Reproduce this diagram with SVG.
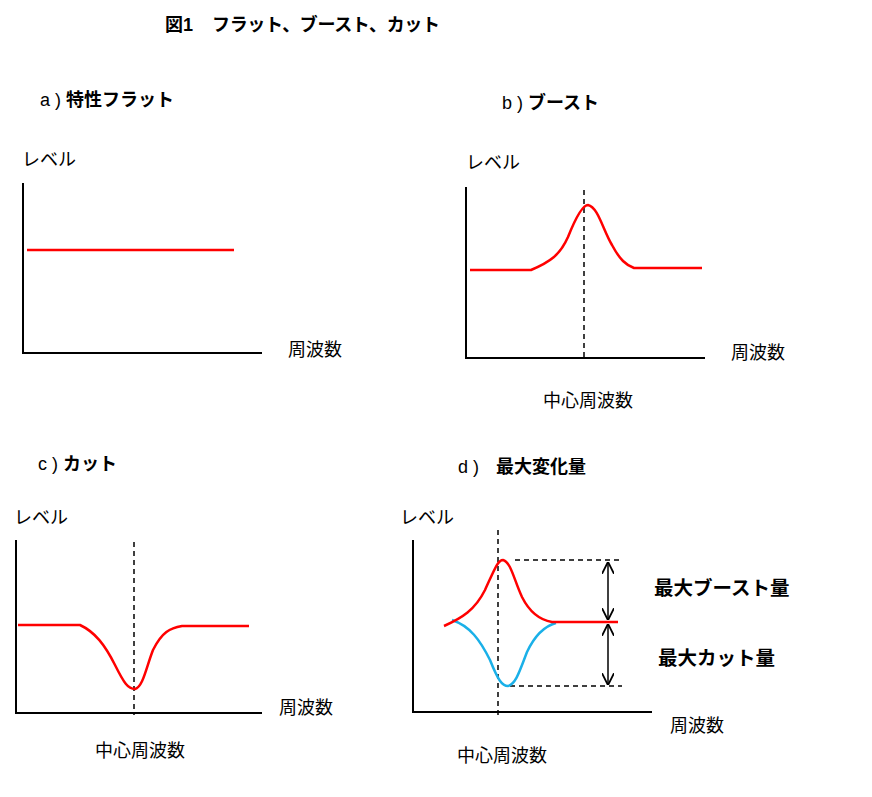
<svg xmlns="http://www.w3.org/2000/svg" width="872" height="797" viewBox="0 0 872 797">
<style>
text{font-family:"Liberation Sans","Noto Sans CJK JP",sans-serif;font-size:18px;fill:#000}
.b{font-weight:bold}
.l{font-size:19.5px}
.ax{stroke:#000;stroke-width:2;fill:none}
.da{stroke:#000;stroke-width:1.5;stroke-dasharray:5,4;fill:none}
.r{stroke:#f00;stroke-width:2.5;fill:none}
.bl{stroke:#1ab0e8;stroke-width:2.5;fill:none}
.ar{stroke:#000;stroke-width:1.5;fill:none;marker-start:url(#m);marker-end:url(#m)}
</style>
<defs><marker id="m" viewBox="0 0 10 10" refX="9" refY="5" markerWidth="8" markerHeight="8" orient="auto-start-reverse"><path d="M0,0L10,5L0,10" fill="none" stroke="#000" stroke-width="1.5"/></marker></defs>
<g id="title"><text x="165" y="31" class="b">図1</text><text x="212" y="31" class="b" textLength="228">フラット、ブースト、カット</text></g>
<g id="panel-a">
<text x="40" y="106">a ) <tspan class="b">特性フラット</tspan></text>
<text x="22" y="166">レベル</text>
<text x="288" y="356">周波数</text>
<path class="ax" d="M23,183V353H262"/>
<path class="r" d="M27,250H234"/>
</g>
<g id="panel-b">
<text x="502" y="109">b ) <tspan class="b">ブースト</tspan></text>
<text x="466" y="169">レベル</text>
<text x="731" y="359">周波数</text>
<text x="543" y="407">中心周波数</text>
<path class="ax" d="M466,187V358H705"/>
<path class="da" d="M584,190V360"/>
<path class="r" d="M470,270H531C550,262 560,255 568,237C578,212 584,205 588,205C598,207 603,230 612,245C620,260 626,265 634,268H702"/>
</g>
<g id="panel-c">
<text x="38" y="470">c ) <tspan class="b">カット</tspan></text>
<text x="14" y="524">レベル</text>
<text x="279" y="714">周波数</text>
<text x="95" y="757">中心周波数</text>
<path class="ax" d="M16,540V713H262"/>
<path class="da" d="M134,542V715"/>
<path class="r" d="M18,625H80C95,632 105,645 115,665C124,683 128,689 135,689C143,687 146,668 153,650C162,632 170,628 182,626H249"/>
</g>
<g id="panel-d">
<text x="458" y="473">d )</text><text x="496" y="473" class="b">最大変化量</text>
<text x="400" y="524">レベル</text>
<text x="670" y="732">周波数</text>
<text x="457" y="762">中心周波数</text>
<text x="654" y="595" class="b l">最大ブースト量</text>
<text x="658" y="665" class="b l">最大カット量</text>
<path class="ax" d="M413,540V712H652"/>
<path class="da" d="M498,530V715"/>
<path class="da" d="M515,560H622M510,686H622"/>
<path class="bl" d="M452,620C470,626 480,640 490,660C498,680 502,686 508,686C516,684 520,670 527,652C535,635 545,626 556,623"/>
<path class="r" d="M444,626C462,618 475,610 485,590C495,568 498,560 503,560C511,562 514,580 522,597C530,613 540,620 552,622H618"/>
<path class="ar" d="M608,563V619"/>
<path class="ar" d="M608,625V684"/>
</g>
</svg>
